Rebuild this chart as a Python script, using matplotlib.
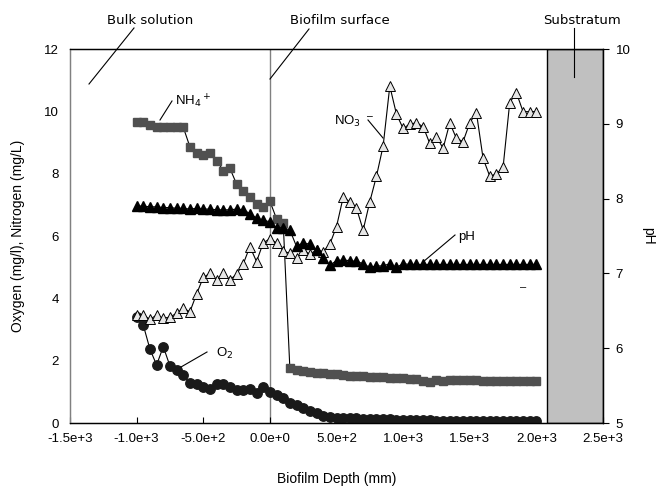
import matplotlib
matplotlib.use("Agg")
import matplotlib.pyplot as plt
from matplotlib.lines import Line2D
from matplotlib.ticker import FuncFormatter

depth = [-1000, -950, -900, -850, -800, -750, -700, -650, -600, -550, -500, -450, -400, -350, -300, -250,
         -200, -150, -100, -50, 0, 50, 100, 150, 200, 250, 300, 350, 400, 450, 500, 550, 600, 650, 700,
         750, 800, 850, 900, 950, 1000, 1050, 1100, 1150, 1200, 1250, 1300, 1350, 1400, 1450, 1500, 1550,
         1600, 1650, 1700, 1750, 1800, 1850, 1900, 1950, 2000]

nh4 = [9.67, 9.67, 9.56, 9.51, 9.49, 9.49, 9.49, 9.49, 8.86, 8.65, 8.60, 8.67, 8.42, 8.10, 8.17, 7.67,
       7.45, 7.26, 7.03, 6.94, 7.12,
       6.55, 6.42, 1.75, 1.70, 1.67, 1.64, 1.62, 1.60, 1.58, 1.56, 1.54, 1.52, 1.51, 1.50, 1.49, 1.48,
       1.47, 1.45, 1.44, 1.43, 1.42, 1.40, 1.36, 1.33, 1.38, 1.34, 1.38, 1.38, 1.38, 1.37, 1.37, 1.36,
       1.36, 1.36, 1.35, 1.35, 1.35, 1.35, 1.35, 1.35]

o2 = [3.39, 3.14, 2.37, 1.86, 2.45, 1.83, 1.70, 1.54, 1.27, 1.25, 1.17, 1.08, 1.25, 1.25, 1.15, 1.06,
      1.06, 1.09, 0.97, 1.15, 1.00,
      0.90, 0.79, 0.65, 0.58, 0.47, 0.39, 0.31, 0.22, 0.18, 0.16, 0.15, 0.15, 0.15, 0.14, 0.14, 0.13,
      0.12, 0.12, 0.11, 0.11, 0.10, 0.10, 0.09, 0.09, 0.08, 0.08, 0.07, 0.07, 0.07, 0.06, 0.06, 0.06,
      0.06, 0.05, 0.05, 0.05, 0.05, 0.05, 0.05, 0.05]

no3 = [3.46, 3.46, 3.33, 3.46, 3.36, 3.40, 3.52, 3.68, 3.57, 4.14, 4.67, 4.80, 4.59, 4.80, 4.59, 4.78,
       5.10, 5.66, 5.18, 5.78, 5.91,
       5.78, 5.52, 5.44, 5.28, 5.55, 5.42, 5.55, 5.50, 5.74, 6.30, 7.24, 7.10, 6.89, 6.19, 7.10, 7.92,
       8.89, 10.81, 9.91, 9.45, 9.59, 9.63, 9.51, 8.97, 9.19, 8.81, 9.63, 9.13, 9.03, 9.63, 9.96, 8.49,
       7.92, 7.99, 8.20, 10.28, 10.60, 9.99, 9.99, 9.99]

ph = [7.90, 7.90, 7.89, 7.89, 7.88, 7.88, 7.87, 7.87, 7.86, 7.87, 7.86, 7.86, 7.85, 7.85, 7.85, 7.86,
      7.85, 7.80, 7.74, 7.71, 7.69,
      7.61, 7.61, 7.58, 7.36, 7.41, 7.39, 7.31, 7.20, 7.11, 7.17, 7.18, 7.17, 7.16, 7.13, 7.08, 7.10,
      7.10, 7.13, 7.08, 7.13, 7.12, 7.12, 7.12, 7.12, 7.12, 7.12, 7.12, 7.12, 7.12, 7.12, 7.12, 7.12,
      7.12, 7.12, 7.12, 7.12, 7.12, 7.12, 7.12, 7.12]

substratum = (2080, 2500)
x_ticks = [-1500, -1000, -500, 0, 500, 1000, 1500, 2000, 2500]
y_ticks = [0, 2, 4, 6, 8, 10, 12]
ph_ticks = [5, 6, 7, 8, 9, 10]

W, H = 669, 493
fig = plt.figure(figsize=(W / 100, H / 100), dpi=100)
ax = fig.add_axes([70 / W, 1 - 423 / H, (603 - 70) / W, (423 - 49) / H])
ax2 = ax.twinx()

TF = "Liberation Sans"
AF = "DejaVu Sans"

# substratum and surface line
ax.axvspan(substratum[0], substratum[1], facecolor="#c0c0c0", edgecolor="black", linewidth=1.0, zorder=1)
ax.axvline(0, color="#808080", linewidth=1.0, zorder=1)

ax.plot(depth, o2, color="black", lw=0.8, marker="o", ms=6.8, mfc="#1a1a1a", mec="#1a1a1a", zorder=3)
ax.plot(depth, nh4, color="black", lw=0.8, marker="s", ms=6.3, mfc="#505050", mec="#505050", zorder=3)
ax.plot(depth, no3, color="black", lw=0.8, marker="^", ms=7, mfc="#e6e6e6", mec="black", mew=0.7, zorder=4)
ax2.plot(depth, ph, color="black", lw=0.8, marker="^", ms=7, mfc="black", mec="black", zorder=3)

ax.set_xlim(-1500, 2500)
ax.set_ylim(0, 12)
ax2.set_ylim(5, 10)
ax.set_xticks(x_ticks)
ax.set_yticks(y_ticks)
ax2.set_yticks(ph_ticks)


def sci(v, pos):
    s = f"{v:.1e}"
    mant, ex = s.split("e")
    return f"{mant}e{int(ex):+d}"


ax.xaxis.set_major_formatter(FuncFormatter(sci))
ax.tick_params(axis="x", direction="in", length=4, width=0.8, labelsize=9.5, pad=7)
ax.tick_params(axis="y", length=0, labelsize=9.5, pad=8)
ax2.tick_params(axis="y", direction="out", length=4, width=0.8, labelsize=9.5, pad=5)
for lab in ax.get_xticklabels() + ax.get_yticklabels() + ax2.get_yticklabels():
    lab.set_fontfamily(TF)

for a in (ax, ax2):
    a.spines["left"].set_color("#808080")
    a.spines["top"].set_color("black")
    a.spines["right"].set_color("black")
    a.spines["bottom"].set_color("black")
    for s in a.spines.values():
        s.set_linewidth(0.9)

ax.set_xlabel("Biofilm Depth (mm)", fontsize=10, fontfamily=TF, labelpad=20)
ax.set_ylabel("Oxygen (mg/l), Nitrogen (mg/L)", fontsize=10, fontfamily=TF, labelpad=14)
ax2.set_ylabel("pH", fontsize=10, fontfamily=TF, rotation=270, labelpad=18)


def P(px, py):
    return (px / W, 1 - py / H)


def fline(p1, p2):
    (x1, y1), (x2, y2) = P(*p1), P(*p2)
    fig.add_artist(Line2D([x1, x2], [y1, y2], transform=fig.transFigure, color="black", lw=0.8))


def ftext(px, py, s, ha="left", fam=AF, size=9.5):
    x, y = P(px, py)
    fig.text(x, y, s, ha=ha, va="baseline", fontsize=size, fontfamily=fam)


# outside annotations
ftext(107, 24, "Bulk solution")
fline((134, 28), (89, 84))
ftext(290, 24, "Biofilm surface")
fline((309, 29), (270, 79))
ftext(543, 24, "Substratum")
fline((574, 28), (574, 77))

# inside annotations
ftext(175, 106, r"NH$_4$$^+$", fam=TF, size=9.5)
fline((172, 101), (160, 120))
ftext(334, 125, r"NO$_3$ $^-$", fam=TF, size=9.5)
fline((368, 120), (383, 138))
ftext(458, 240, "pH", fam=TF, size=9.5)
fline((455, 235), (423, 262))
ftext(520, 290, "\u2013", fam=TF, size=8)
ftext(216, 357, r"O$_2$", fam=TF, size=9.5)
fline((207, 352), (181, 367))

fig.savefig("out.png", dpi=100)
